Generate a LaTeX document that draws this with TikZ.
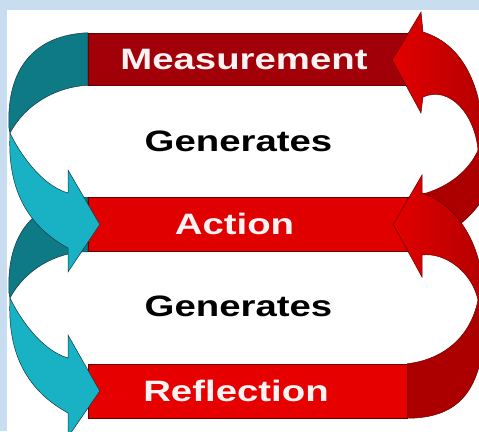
\documentclass[tikz,border=0pt]{standalone}
\usepackage{fontspec}
\setmainfont{Liberation Sans}
\usepackage{graphicx}
\usetikzlibrary{calc}

\definecolor{bgblue}{RGB}{200,222,240}
\definecolor{measred}{RGB}{162,0,8}
\definecolor{actred}{RGB}{224,0,0}
\definecolor{reflred}{RGB}{230,0,0}
\definecolor{redfront}{RGB}{226,0,0}
\definecolor{redshade}{RGB}{180,0,0}
\definecolor{redback}{RGB}{172,0,0}
\definecolor{redline}{RGB}{105,0,0}
\definecolor{tealfront}{RGB}{24,178,196}
\definecolor{tealback}{RGB}{14,122,134}
\definecolor{tealline}{RGB}{20,55,62}
\definecolor{bandtextcol}{RGB}{255,242,242}

\newcommand{\bandfont}{\bfseries\fontsize{29.5}{32}\selectfont}
\newcommand{\widetext}[1]{\scalebox{1.3}[1]{#1}}

\begin{document}
\begin{tikzpicture}[x=1pt,y=-1pt,
  band/.style={rectangle,draw=redline,line width=0.5pt,inner sep=0pt,minimum width=319pt,minimum height=54pt},
  bandtext/.style={text=bandtextcol,font=\bandfont,inner sep=0pt},
  gentext/.style={text=black,font=\bandfont,inner sep=0pt},
  tealarrow/.style={draw=tealline,line width=0.5pt},
  redarrow/.style={draw=redline,line width=0.5pt}]
  \useasboundingbox (0,0) rectangle (479,431);
  \fill[bgblue] (0,0) rectangle (479,431);
  \fill[white] (7,10) rectangle (479,431);

  % bands
  \node[band,fill=measred,minimum height=52pt] (meas) at (247.5,59) {};
  \node[band,fill=actred] (act) at (247.5,224.5) {};
  \node[band,fill=reflred] (refl) at (247.5,391) {};

  \node[bandtext] (measText) at (244,59) {\widetext{Measurement}};
  \node[gentext] (genTop) at (238.5,141) {\widetext{Generates}};
  \node[bandtext] (actText) at (234.5,224) {\widetext{Action}};
  \node[gentext] (genBottom) at (238.5,306.5) {\widetext{Generates}};
  \node[bandtext] (reflText) at (236,390.5) {\widetext{Reflection}};

  % back faces
  \fill[tealarrow,fill=tealback] (meas.north west) .. controls (35,35) and (6,68) .. (9,128)
    -- (10,133) .. controls (25,105) and (55,87) .. (meas.south west) -- cycle;
  \fill[tealarrow,fill=tealback] (act.north west) .. controls (35,200) and (6,233) .. (9,293)
    -- (10,298) .. controls (25,270) and (55,252) .. (act.south west) -- cycle;
  \fill[redarrow,fill=redback] (act.north east) .. controls (440,193) and (468,175) .. (479,148)
    -- (484,148) -- (484,197) .. controls (472,218) and (445,240) .. (act.south east) -- cycle;
  \fill[redarrow,fill=redback] (refl.north east) .. controls (440,360) and (470,340) .. (478,300)
    -- (484,300) -- (484,340) .. controls (478,395) and (455,418) .. (refl.south east) -- cycle;

  % front faces with heads
  \filldraw[tealarrow,fill=tealfront] (10,133) .. controls (18,150) and (40,185) .. (68,193)
    -- (68,170) -- ($(act.west)+(12,0)$) -- (68,272) -- (68,248)
    .. controls (28,226) and (7,190) .. (10,133) -- cycle;
  \filldraw[tealarrow,fill=tealfront] (10,298) .. controls (18,315) and (40,350) .. (68,358)
    -- (68,335) -- ($(refl.west)+(12,0)$) -- (68,437) -- (68,413)
    .. controls (28,391) and (7,355) .. (10,298) -- cycle;
  \path[redarrow,left color=redfront,right color=redshade] (478,150) .. controls (475,115) and (450,85) .. (423,97)
    -- (421,113) -- ($(meas.east)+(-15,1)$) -- (421,12) -- (423,32)
    .. controls (465,45) and (484,90) .. (484,150) -- cycle;
  \path[redarrow,left color=redfront,right color=redshade] (478,300) .. controls (472,272) and (445,252) .. (422,255)
    -- (422,277) -- ($(act.east)+(-14,0)$) -- (422,175) -- (422,193)
    .. controls (460,205) and (484,250) .. (484,300) -- cycle;
\end{tikzpicture}
\end{document}
